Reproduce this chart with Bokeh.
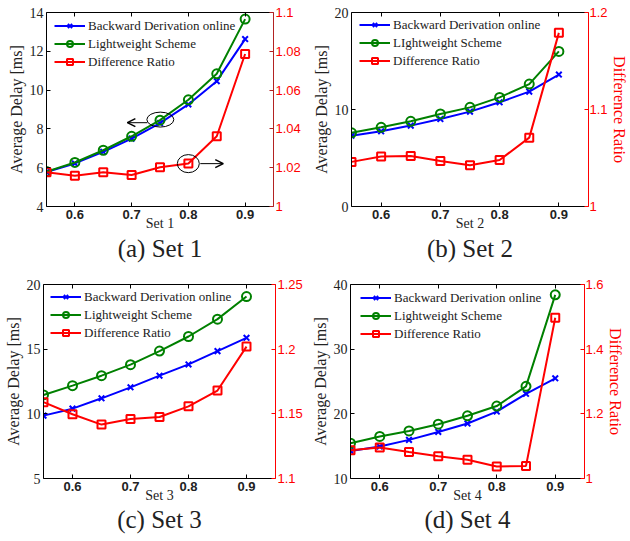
from bokeh.plotting import figure
from bokeh.models import (LinearAxis, Range1d, FixedTicker, Legend, LegendItem,
                          Title, Arrow, OpenHead, CustomLabelingPolicy)
from bokeh.layouts import column, row
from bokeh.embed import file_html
from bokeh.resources import INLINE

# ---------------- data ----------------
load = [0.55, 0.6, 0.65, 0.7, 0.75, 0.8, 0.85, 0.9]
x_ticks = [0.6, 0.7, 0.8, 0.9]
x_tick_labels = ["0.6", "0.7", "0.8", "0.9"]

set1_backward = [5.78, 6.22, 6.82, 7.50, 8.30, 9.26, 10.46, 12.63]
set1_light = [5.80, 6.27, 6.90, 7.62, 8.45, 9.50, 10.84, 13.66]
set1_ratio = [1.0176, 1.0159, 1.0176, 1.0162, 1.0202, 1.0222, 1.0362, 1.0786]

set2_backward = [7.30, 7.75, 8.34, 9.02, 9.78, 10.74, 11.84, 13.60]
set2_light = [7.60, 8.16, 8.78, 9.54, 10.22, 11.25, 12.62, 15.99]
set2_ratio = [1.046, 1.0515, 1.052, 1.047, 1.0425, 1.048, 1.071, 1.179]

set3_backward = [9.86, 10.40, 11.20, 12.05, 12.95, 13.82, 14.85, 15.88]
set3_light = [11.46, 12.18, 12.95, 13.80, 14.85, 15.98, 17.32, 19.07]
set3_ratio = [1.159, 1.1497, 1.1417, 1.146, 1.1476, 1.1558, 1.168, 1.202]

set4_backward = [14.27, 14.94, 15.97, 17.20, 18.50, 20.35, 23.10, 25.50]
set4_light = [15.45, 16.50, 17.35, 18.40, 19.70, 21.20, 24.25, 38.40]
set4_ratio = [1.0875, 1.096, 1.082, 1.069, 1.058, 1.037, 1.039, 1.497]

left_ticks = {
    1: [4, 6, 8, 10, 12, 14],
    2: [0, 10, 20],
    3: [5, 10, 15, 20],
    4: [10, 20, 30, 40],
}
left_tick_labels = {
    1: ["4", "6", "8", "10", "12", "14"],
    2: ["0", "10", "20"],
    3: ["5", "10", "15", "20"],
    4: ["10", "20", "30", "40"],
}
right_ticks = {
    1: [1.0, 1.02, 1.04, 1.06, 1.08, 1.1],
    2: [1.0, 1.1, 1.2],
    3: [1.1, 1.15, 1.2, 1.25],
    4: [1.0, 1.2, 1.4, 1.6],
}
right_tick_labels = {
    1: ["1", "1.02", "1.04", "1.06", "1.08", "1.1"],
    2: ["1", "1.1", "1.2"],
    3: ["1.1", "1.15", "1.2", "1.25"],
    4: ["1", "1.2", "1.4", "1.6"],
}

series_names_1 = ["Backward Derivation online", "Lightweight Scheme", "Difference Ratio"]
series_names_2 = ["Backward Derivation online", "LIghtweight Scheme", "Difference Ratio"]
y_label_left = "Average Delay [ms]"
y_label_right = "Difference Ratio"

# annotation (ellipse + arrow) in set 1, data coordinates
ell_x = [0.7506, 0.7999]
ell_y = [8.48, 6.21]
ell_w = [0.0475, 0.0387]
ell_h = [0.77, 0.93]
arrow_x0 = [0.7277, 0.821]
arrow_x1 = [0.6925, 0.8615]
arrow_y = [8.32, 6.21]

SERIF = "'Liberation Serif', 'Times New Roman', 'DejaVu Serif', serif"
SANS = "'Liberation Sans', Arial, sans-serif"
BLUE, GREEN, RED = "#0000FF", "#008000", "#FF0000"
TXT = "#222222"

LEG_H, LEG_SP, LEG_PAD = 15, 2, 0
LEG_ROW = 16.2  # measured row height of a 13px serif legend label


def make_panel(idx, backward, light, ratio, names, caption, xlabel,
               width, height, bl, br, bt, bb, right_label, right_axis_color,
               leg_dx, leg_dy, cap_standoff):
    yl = left_ticks[idx]
    yr = right_ticks[idx]
    p = figure(width=width, height=height, output_backend="svg",
               toolbar_location=None,
               x_range=Range1d(0.55, 0.95),
               y_range=Range1d(yl[0], yl[-1]),
               min_border_left=bl, min_border_right=br,
               min_border_top=bt, min_border_bottom=bb)
    frame_h = height - bt - bb
    p.extra_y_ranges = {"r": Range1d(yr[0], yr[-1])}
    p.outline_line_color = None
    p.xgrid.grid_line_color = None
    p.ygrid.grid_line_color = None
    p.background_fill_color = "white"
    p.border_fill_color = "white"

    # bottom axis
    xa = p.xaxis[0]
    xa.ticker = FixedTicker(ticks=x_ticks)
    xa.major_label_overrides = dict(zip(x_ticks, x_tick_labels))
    xa.major_label_text_font = SANS
    xa.major_label_text_font_style = "bold"
    xa.major_label_text_font_size = "13px"
    xa.major_label_text_color = TXT
    xa.major_label_standoff = 3
    xa.major_tick_in = 4
    xa.major_tick_out = 0
    xa.minor_tick_line_color = None
    xa.axis_line_color = "black"
    xa.major_tick_line_color = "black"
    xa.axis_label = xlabel
    xa.axis_label_text_font = SERIF
    xa.axis_label_text_font_style = "normal"
    xa.axis_label_text_font_size = "14px"
    xa.axis_label_text_color = TXT
    xa.axis_label_standoff = -6

    # left axis
    ya = p.yaxis[0]
    ya.ticker = FixedTicker(ticks=yl)
    ya.major_label_overrides = dict(zip(yl, left_tick_labels[idx]))
    ya.major_label_text_font = SERIF
    ya.major_label_text_font_size = "14px"
    ya.major_label_text_color = TXT
    ya.major_label_standoff = 3
    ya.major_tick_in = 4
    ya.major_tick_out = 0
    ya.minor_tick_line_color = None
    ya.axis_line_color = "black"
    ya.axis_label = y_label_left
    ya.axis_label_text_font = SERIF
    ya.axis_label_text_font_style = "normal"
    ya.axis_label_text_font_size = "16px"
    ya.axis_label_text_color = TXT
    ya.axis_label_standoff = 2

    # right axis
    ra = LinearAxis(y_range_name="r", ticker=FixedTicker(ticks=yr))
    ra.major_label_overrides = dict(zip(yr, right_tick_labels[idx]))
    ra.major_label_text_font = SANS
    ra.major_label_text_font_size = "13px"
    ra.major_label_text_color = RED
    ra.major_label_standoff = 2
    ra.major_tick_in = 4
    ra.major_tick_out = 0
    ra.minor_tick_line_color = None
    ra.axis_line_color = right_axis_color
    ra.major_tick_line_color = right_axis_color
    if right_label:
        ra.major_label_standoff = 1
        ra.axis_label = y_label_right
        ra.axis_label_text_font = SERIF
        ra.axis_label_text_font_style = "normal"
        ra.axis_label_text_font_size = "16px"
        ra.axis_label_text_color = RED
        ra.axis_label_standoff = 0
    p.add_layout(ra, "right")

    # top axis (box with ticks, no labels)
    ta = LinearAxis(ticker=FixedTicker(ticks=x_ticks),
                    major_label_policy=CustomLabelingPolicy(
                        code="for (const i of indices) indices.unset(i)"))
    ta.major_label_standoff = 0
    ta.major_tick_in = 4
    ta.major_tick_out = 0
    ta.minor_tick_line_color = None
    ta.axis_line_color = "black"
    p.add_layout(ta, "above")

    # series
    l1 = p.line(load, backward, line_color=BLUE, line_width=2)
    m1 = p.scatter(load, backward, marker="x", size=8, line_color=BLUE, line_width=2)
    l2 = p.line(load, light, line_color=GREEN, line_width=2)
    m2 = p.scatter(load, light, marker="circle", size=9, line_color=GREEN,
                   fill_color=None, line_width=2)
    l3 = p.line(load, ratio, line_color=RED, line_width=2, y_range_name="r")
    m3 = p.scatter(load, ratio, marker="square", size=8, line_color=RED,
                   fill_color=None, line_width=2, y_range_name="r")

    leg_height = 2 * LEG_PAD + 3 * LEG_ROW + 2 * LEG_SP
    legend = Legend(items=[LegendItem(label=names[0], renderers=[l1, m1]),
                           LegendItem(label=names[1], renderers=[l2, m2]),
                           LegendItem(label=names[2], renderers=[l3, m3])],
                    location=(leg_dx, frame_h - leg_dy - leg_height))
    legend.label_text_font = SERIF
    legend.label_text_font_size = "13px"
    legend.label_text_color = TXT
    legend.glyph_width = 31
    legend.glyph_height = LEG_H
    legend.label_height = LEG_H
    legend.label_standoff = 3
    legend.spacing = LEG_SP
    legend.padding = LEG_PAD
    legend.margin = 0
    legend.border_line_color = None
    legend.background_fill_alpha = 0
    p.add_layout(legend, "center")

    cap = Title(text=caption, align="center", text_font=SERIF,
                text_font_size="25px", text_font_style="normal",
                text_color=TXT, standoff=cap_standoff)
    p.add_layout(cap, "below")
    return p


# page has no margin: row 1 frames span y 12..206, row 2 frames y 284..478
pa = make_panel(1, set1_backward, set1_light, set1_ratio, series_names_1,
                "(a) Set 1", "Set 1", 308, 264, 46, 35, 12, 58, False, "#B22222",
                8, 5, -1)
pb = make_panel(2, set2_backward, set2_light, set2_ratio, series_names_2,
                "(b) Set 2", "Set 2", 322, 264, 43, 37, 12, 58, True, RED,
                8, 4, -1)
pc = make_panel(3, set3_backward, set3_light, set3_ratio, series_names_1,
                "(c) Set 3", "Set 3", 308, 272, 43, 33, 20, 58, False, RED,
                7, 4, -4)
pd = make_panel(4, set4_backward, set4_light, set4_ratio, series_names_1,
                "(d) Set 4", "Set 4", 322, 272, 39, 46, 20, 58, True, RED,
                10, 5, -4)

# annotations on set 1
pa.ellipse(x=ell_x, y=ell_y, width=ell_w, height=ell_h, fill_color=None,
           line_color="black", line_width=1)
for xs, xe, yy in zip(arrow_x0, arrow_x1, arrow_y):
    pa.add_layout(Arrow(end=OpenHead(size=8, line_color="black", line_width=1.5),
                        x_start=xs, y_start=yy, x_end=xe, y_end=yy,
                        line_color="black", line_width=1))

layout = column(row(pa, pb), row(pc, pd))
open("out.html", "w").write(file_html(layout, INLINE))
